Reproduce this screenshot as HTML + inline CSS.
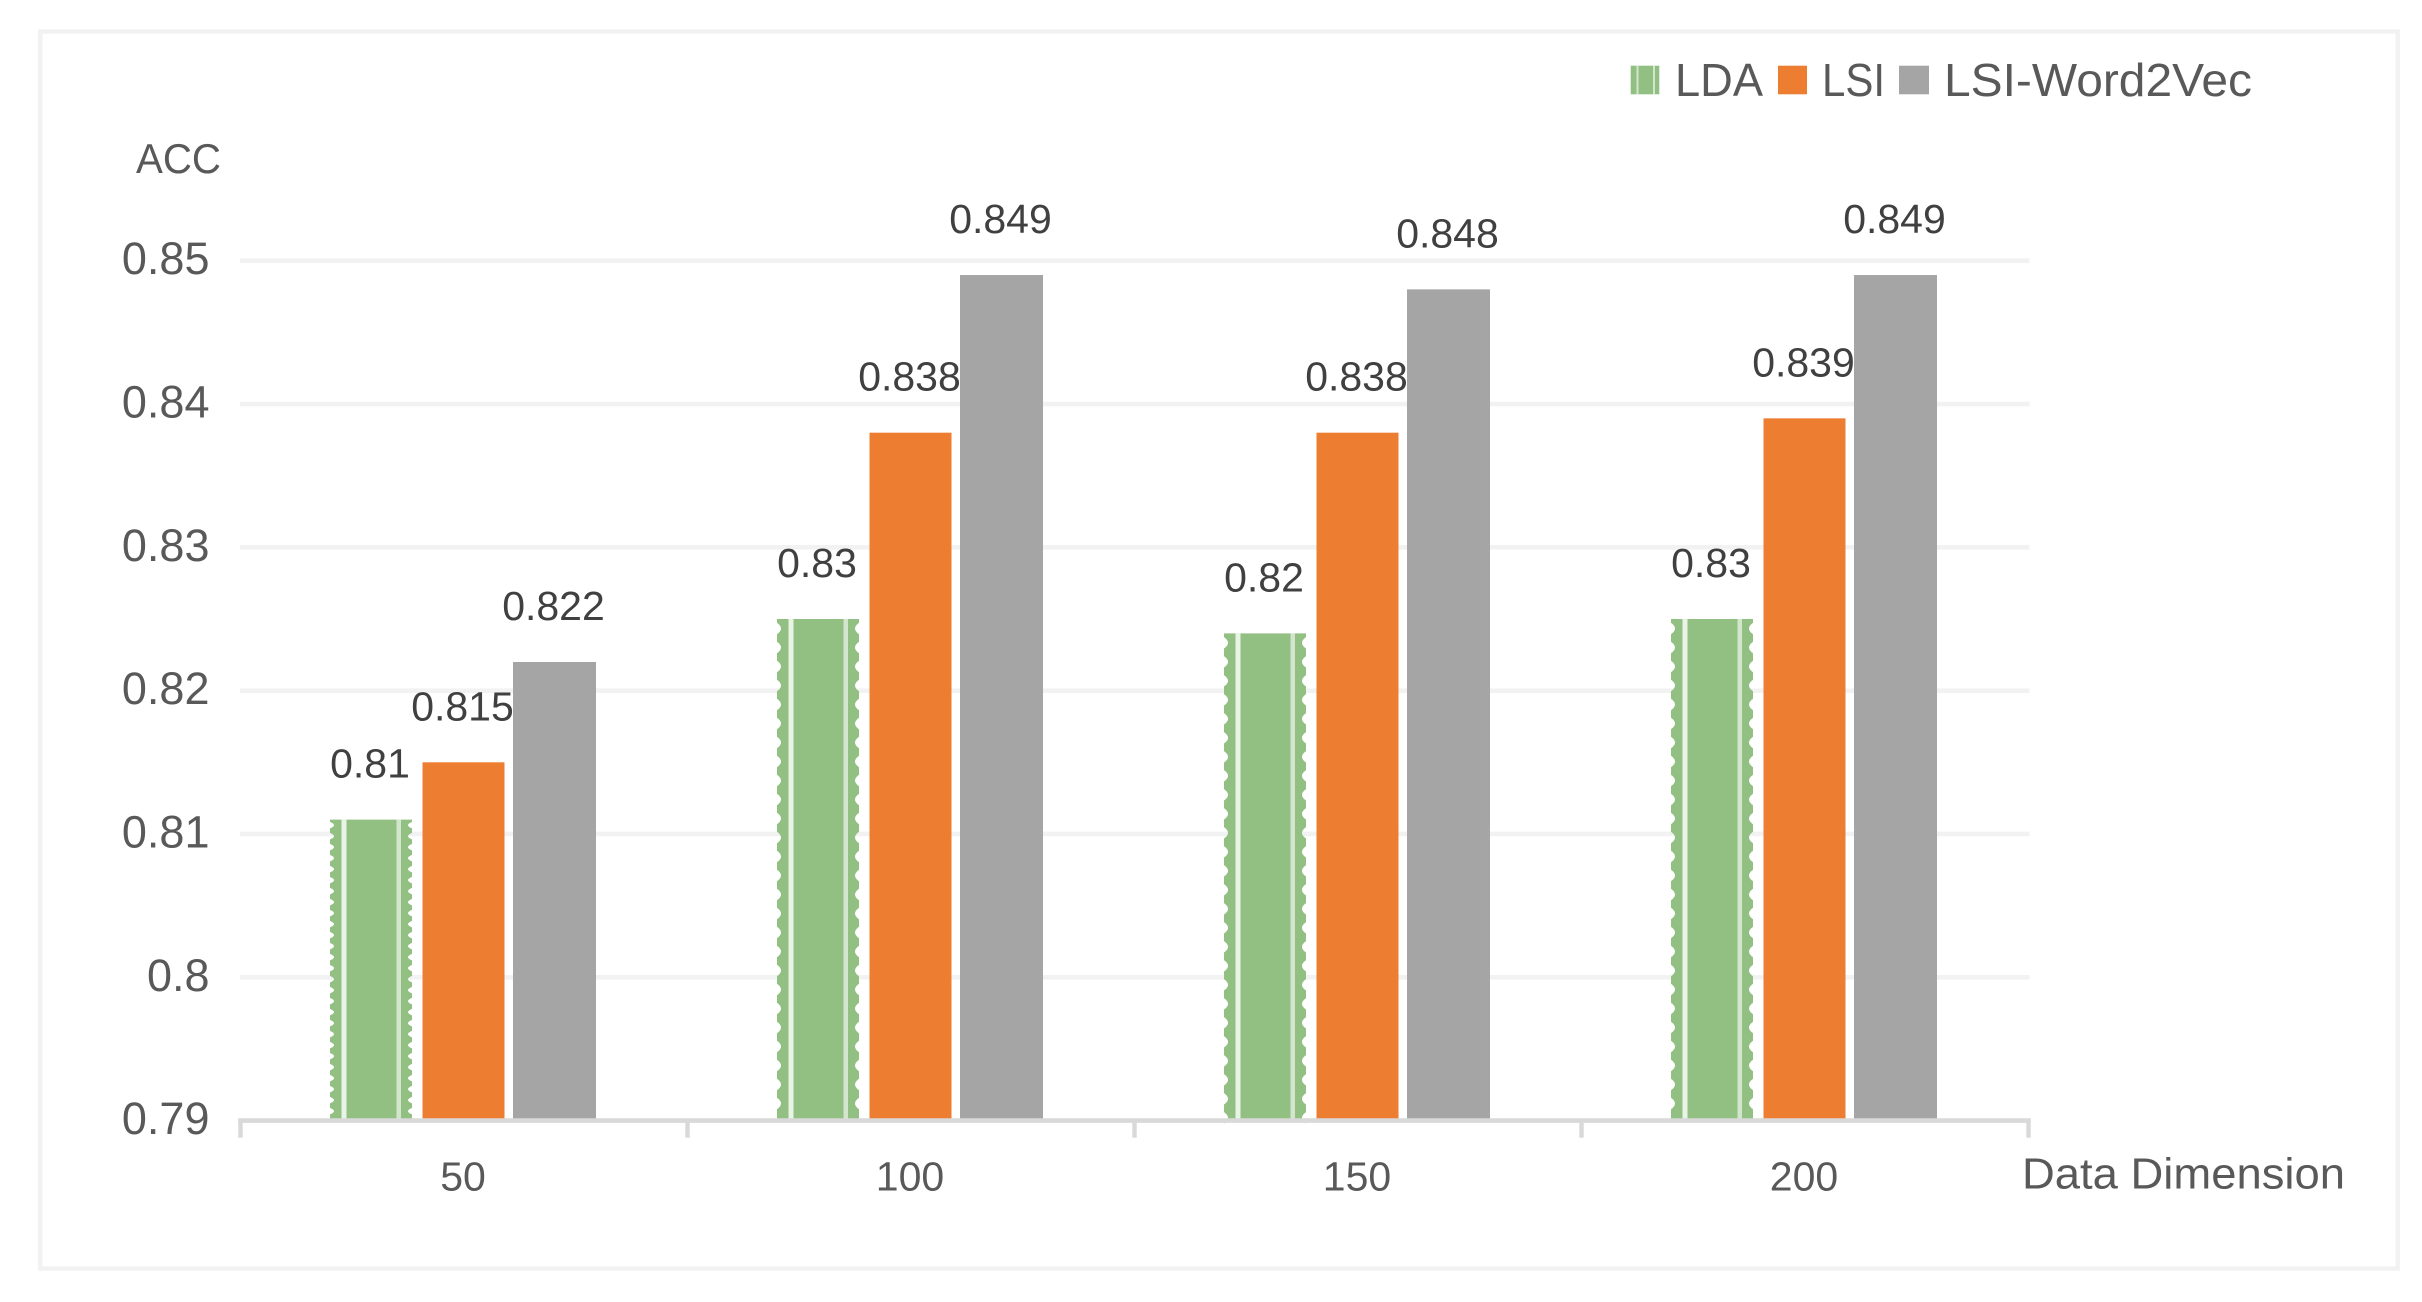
<!DOCTYPE html>
<html lang="en">
<head>
<meta charset="utf-8">
<title>ACC by Data Dimension</title>
<style>
html,body{margin:0;padding:0;background:#fff;width:2422px;height:1302px;overflow:hidden}
svg{display:block}
text{font-family:"Liberation Sans",Arial,sans-serif;fill:#595959}
</style>
</head>
<body>
<svg id="chart" xmlns="http://www.w3.org/2000/svg" width="2422" height="1302" viewBox="0 0 2422 1302">
  <rect x="40.2" y="31.5" width="2357.6" height="1237" fill="#fff" stroke="#f2f2f2" stroke-width="4.5"/>
  <g id="grid"></g>
  <g id="bars"></g>
  <g id="axis"></g>
  <g id="yticks"></g>
  <g id="xticks"></g>
  <g id="values"></g>
  <text x="136" y="173" font-size="42" textLength="85" lengthAdjust="spacingAndGlyphs">ACC</text>
  <text x="2022" y="1188.7" font-size="44" textLength="323" lengthAdjust="spacingAndGlyphs">Data Dimension</text>
  <g>
    <g>
      <rect x="1630.7" y="65.7" width="28.6" height="28.6" fill="#92c083"/>
      <rect x="1636.5" y="65.7" width="2" height="28.6" fill="#fff" fill-opacity="0.6"/>
      <rect x="1653" y="65.7" width="2" height="28.6" fill="#fff" fill-opacity="0.6"/>
      <text x="1675" y="96" font-size="46" textLength="88" lengthAdjust="spacingAndGlyphs">LDA</text>
    </g>
    <g>
      <rect x="1778" y="65.7" width="29" height="28.6" fill="#ed7d31"/>
      <text x="1822" y="96" font-size="46" textLength="63" lengthAdjust="spacingAndGlyphs">LSI</text>
    </g>
    <g>
      <rect x="1899" y="65.7" width="30" height="28.6" fill="#a5a5a5"/>
      <text x="1944" y="96" font-size="46" textLength="308" lengthAdjust="spacingAndGlyphs">LSI-Word2Vec</text>
    </g>
  </g>
</svg>
<script>
const categories = ["50", "100", "150", "200"];
const seriesNames = ["lda", "lsi", "lsi-word2vec"];
const ldaValues = [0.811, 0.825, 0.824, 0.825];
const lsiValues = [0.815, 0.838, 0.838, 0.839];
const word2vecValues = [0.822, 0.849, 0.848, 0.849];
const ldaLabels = ["0.81", "0.83", "0.82", "0.83"];
const lsiLabels = ["0.815", "0.838", "0.838", "0.839"];
const word2vecLabels = ["0.822", "0.849", "0.848", "0.849"];
const tickValues = [0.79, 0.8, 0.81, 0.82, 0.83, 0.84, 0.85];
const tickLabels = ["0.79", "0.8", "0.81", "0.82", "0.83", "0.84", "0.85"];

const NS = "http://www.w3.org/2000/svg";
const seriesValues = [ldaValues, lsiValues, word2vecValues];
const seriesLabels = [ldaLabels, lsiLabels, word2vecLabels];
const seriesColors = ["#92c083", "#ed7d31", "#a5a5a5"];
const plotLeft = 240.5, plotRight = 2028.5, plotBottom = 1120.6, plotTop = 260.7;
const yMin = tickValues[0], yMax = tickValues[tickValues.length - 1];
const step = (plotRight - plotLeft) / categories.length;

function yScale(v) {
  return plotBottom - (v - yMin) / (yMax - yMin) * (plotBottom - plotTop);
}
function barX(catIndex, seriesIndex) {
  return plotLeft + catIndex * step + [89.5, 182, 272.5][seriesIndex];
}
function make(parent, tag, attrs, txt) {
  const el = document.createElementNS(NS, tag);
  for (const k in attrs) el.setAttribute(k, attrs[k]);
  if (txt !== undefined) el.textContent = txt;
  parent.appendChild(el);
  return el;
}
function scallopPath(x0, x1, top, base, period, depth) {
  const h = period * 0.3;
  let d = "M" + x0 + " " + top + "L" + x1 + " " + top;
  let y = top + period / 2;
  let ys = [];
  while (y < base - 2) { ys.push(y); y += period; }
  for (const n of ys) {
    d += "L" + x1 + " " + (n - h) + "Q" + (x1 - depth) + " " + (n - h / 2) + " " + (x1 - depth) + " " + n + "Q" + (x1 - depth) + " " + (n + h / 2) + " " + x1 + " " + (n + h);
  }
  d += "L" + x1 + " " + base + "L" + x0 + " " + base;
  for (const n of ys.slice().reverse()) {
    d += "L" + x0 + " " + (n + h) + "Q" + (x0 + depth) + " " + (n + h / 2) + " " + (x0 + depth) + " " + n + "Q" + (x0 + depth) + " " + (n - h / 2) + " " + x0 + " " + (n - h);
  }
  return d + "Z";
}

const gridG = document.getElementById("grid");
const barsG = document.getElementById("bars");
const axisG = document.getElementById("axis");
const yG = document.getElementById("yticks");
const xG = document.getElementById("xticks");
const valG = document.getElementById("values");

tickValues.forEach(function (v, i) {
  const y = yScale(v);
  if (i > 0) {
    const line = make(gridG, "line", {x1: plotLeft - 0.5, x2: plotRight + 1, y1: y, y2: y, stroke: "#f2f2f2", "stroke-width": 4.6});
    
    
  }
  const label = make(yG, "text", {x: 209.5, y: y + 13.5, "font-size": 45, "text-anchor": "end"}, tickLabels[i]);
  
  
});

categories.forEach(function (cat, c) {
  seriesValues.forEach(function (vals, s) {
    const top = yScale(vals[c]);
    const x = barX(c, s);
    const w = s === 2 ? 83 : 82;
    let bar;
    if (s === 0) {
      const period = c === 0 ? 11 : 19;
      bar = make(barsG, "path", {d: scallopPath(x, x + w, top, plotBottom, period, 4), fill: seriesColors[s]});
      const stripeL = make(barsG, "rect", {x: x + 11.5, y: top, width: 5, height: plotBottom - top, fill: "#fff", "fill-opacity": 0.8});
      
      
      const stripeR = make(barsG, "rect", {x: x + 66.5, y: top, width: 4.5, height: plotBottom - top, fill: "#fff", "fill-opacity": 0.6});
      
      
    } else {
      bar = make(barsG, "rect", {x: x, y: top, width: w, height: plotBottom - top, fill: seriesColors[s]});
    }
    
    

    const valueLabel = make(valG, "text", {x: x + w / 2 - 1, y: top - 42, "font-size": 41, "text-anchor": "middle", style: "fill:#404040"}, seriesLabels[s][c]);
    
    
  });

  const xLabel = make(xG, "text", {x: plotLeft + (c + 0.5) * step - 1, y: 1190.5, "font-size": 41, "text-anchor": "middle"}, cat);
  
  
});

const axisLine = make(axisG, "line", {x1: plotLeft - 2.3, x2: plotRight + 2.3, y1: plotBottom, y2: plotBottom, stroke: "#d9d9d9", "stroke-width": 4.6});


for (let i = 0; i <= categories.length; i++) {
  const tx = plotLeft + i * step;
  const tick = make(axisG, "line", {x1: tx, x2: tx, y1: plotBottom, y2: 1137.7, stroke: "#d9d9d9", "stroke-width": 4.4});
  
  
}
</script>
</body>
</html>
